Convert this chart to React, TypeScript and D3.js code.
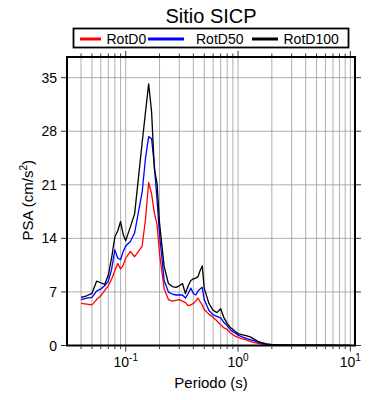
import React from "react";
import * as d3 from "d3";

const periods = [0.04, 0.045, 0.05, 0.055, 0.06, 0.065, 0.07, 0.075, 0.08, 0.085, 0.09, 0.095, 0.1, 0.11, 0.12, 0.13, 0.14, 0.15, 0.16, 0.17, 0.18, 0.19, 0.2, 0.22, 0.24, 0.26, 0.28, 0.3, 0.32, 0.34, 0.36, 0.38, 0.4, 0.42, 0.44, 0.46, 0.48, 0.5, 0.55, 0.6, 0.65, 0.7, 0.75, 0.8, 0.85, 0.9, 0.95, 1.0, 1.1, 1.2, 1.3, 1.4, 1.5, 1.6, 1.8, 2.0, 2.5, 3, 4, 5, 6, 7, 8, 9, 10];

const rotD0 = [5.5, 5.4, 5.3, 6.0, 6.5, 7.2, 7.8, 8.7, 9.8, 10.7, 10.0, 10.5, 11.4, 12.3, 11.6, 12.3, 13.0, 16.5, 21.3, 19.8, 17.3, 15.8, 12.0, 7.4, 6.0, 5.8, 5.9, 6.0, 5.8, 5.6, 5.2, 5.3, 5.5, 5.8, 6.2, 5.7, 5.3, 4.7, 4.1, 3.7, 3.2, 2.7, 2.3, 2.1, 1.7, 1.4, 1.2, 1.05, 0.85, 0.7, 0.5, 0.38, 0.28, 0.2, 0.1, 0.06, 0.04, 0.03, 0.03, 0.02, 0.02, 0.02, 0.02, 0.02, 0.02];

const rotD50 = [6.0, 6.2, 6.3, 7.1, 7.4, 7.8, 8.4, 10.0, 12.5, 11.4, 11.2, 12.3, 13.0, 13.6, 14.7, 17.5, 20.0, 24.5, 27.3, 27.0, 23.5, 19.0, 14.5, 8.5, 7.0, 6.7, 6.6, 6.6, 6.6, 6.2, 6.8, 7.5, 6.8, 6.6, 7.1, 7.4, 7.6, 6.0, 4.6, 4.0, 3.8, 3.6, 3.0, 2.6, 2.1, 1.8, 1.6, 1.35, 1.1, 0.9, 0.75, 0.6, 0.45, 0.32, 0.18, 0.1, 0.07, 0.05, 0.04, 0.03, 0.03, 0.02, 0.02, 0.02, 0.02];

const rotD100 = [6.3, 6.5, 6.8, 8.4, 8.2, 8.0, 9.2, 11.5, 14.2, 15.0, 16.2, 14.5, 13.7, 15.5, 17.2, 22.0, 26.5, 30.5, 34.2, 30.5, 23.0, 21.2, 16.0, 10.3, 8.1, 7.7, 7.6, 7.8, 8.1, 6.8, 7.8, 8.5, 8.7, 8.8, 9.0, 9.8, 10.4, 7.5, 5.5, 4.6, 4.3, 4.8, 3.6, 2.9, 2.4, 2.1, 1.8, 1.55, 1.4, 1.25, 1.1, 0.8, 0.55, 0.4, 0.22, 0.12, 0.08, 0.06, 0.05, 0.04, 0.03, 0.03, 0.02, 0.02, 0.02];

const seriesNames = ["RotD0", "RotD50", "RotD100"];
const seriesColors = ["#ff0000", "#0000ff", "#000000"];
const seriesValues = [rotD0, rotD50, rotD100];

const yTicks = [0, 7, 14, 21, 28, 35];
const xDecades = [0.1, 1, 10];
const decadeExponents = ["-1", "0", "1"];

const FONT = "'Liberation Sans', Arial, Helvetica, sans-serif";

export default function App() {
  const left = 67, right = 355, top = 57, bottom = 345.5;
  const x = d3.scaleLog().domain([0.03, 11]).range([left, right]);
  const y = d3.scaleLinear().domain([0, 37.7]).range([bottom, top]);

  const gridX: number[] = [];
  [0.01, 0.1, 1, 10].forEach((dec) => {
    for (let k = 1; k <= 9; k++) {
      const v = dec * k;
      if (v >= 0.031 && v <= 10.5) gridX.push(v);
    }
  });

  const line = d3
    .line<number>()
    .x((_, i) => x(periods[i]))
    .y((d) => y(d));

  const legendItems = [
    { x1: 80, x2: 101, tx: 106.5 },
    { x1: 148, x2: 184, tx: 196 },
    { x1: 252, x2: 278, tx: 283.5 },
  ];

  const isMajor = (v: number) => xDecades.some((d) => Math.abs(d - v) / d < 1e-6);

  return (
    <svg
      width={390}
      height={400}
      style={{ position: "absolute", left: 0, top: 0, background: "#fff" }}
      fontFamily={FONT}
    >
      <rect x={0} y={0} width={390} height={400} fill="#fff" />
      {gridX.map((v, i) => (
        <line key={"gx" + i} x1={x(v)} x2={x(v)} y1={top} y2={bottom} stroke="#9a9a9a" strokeWidth={0.8} />
      ))}
      {yTicks.slice(1).map((t) => (
        <line key={"gy" + t} x1={left} x2={right} y1={y(t)} y2={y(t)} stroke="#9a9a9a" strokeWidth={0.8} />
      ))}

      {seriesValues.map((vals, i) => (
        <path key={seriesNames[i]} d={line(vals) || ""} fill="none" stroke={seriesColors[i]} strokeWidth={1.3} strokeLinejoin="round" />
      ))}

      <rect x={left} y={top} width={right - left} height={bottom - top} fill="none" stroke="#000" strokeWidth={2} />

      {gridX.map((v, i) => {
        const len = isMajor(v) ? 5 : 2.5;
        return (
          <g key={"xt" + i}>
            <line x1={x(v)} x2={x(v)} y1={top - 1} y2={top - 1 - len} stroke="#000" strokeWidth={0.8} />
            <line x1={x(v)} x2={x(v)} y1={bottom + 1} y2={bottom + 1 + len} stroke="#000" strokeWidth={0.8} />
          </g>
        );
      })}
      {yTicks.map((t) => (
        <g key={"yt" + t}>
          <line x1={left - 1} x2={left - 6} y1={y(t)} y2={y(t)} stroke="#000" strokeWidth={0.8} />
          <line x1={right + 1} x2={right + 6} y1={y(t)} y2={y(t)} stroke="#000" strokeWidth={0.8} />
          <text x={57} y={y(t)} dy="0.36em" textAnchor="end" fontSize={14} fill="#000">
            {t}
          </text>
        </g>
      ))}
      {xDecades.map((d, i) => (
        <text key={"xl" + d} x={x(d)} y={366.5} textAnchor="middle" fontSize={14} fill="#000">
          10
          <tspan dy={-6} fontSize={10}>
            {decadeExponents[i]}
          </tspan>
        </text>
      ))}

      <text x={(left + right) / 2} y={388} textAnchor="middle" fontSize={15} fill="#000">
        Periodo (s)
      </text>
      <text transform={`translate(33,${(top + bottom) / 2 - 1}) rotate(-90)`} textAnchor="middle" fontSize={15} fill="#000">
        PSA (cm/s
        <tspan dy={-6} fontSize={10}>2</tspan>
        <tspan dy={6}>)</tspan>
      </text>

      <text x={(left + right) / 2} y={23} textAnchor="middle" fontSize={20} fill="#000">
        Sitio SICP
      </text>

      <rect x={73.5} y={28.5} width={275} height={19} fill="#fff" stroke="#000" strokeWidth={1.8} />
      {legendItems.map((it, i) => (
        <g key={"lg" + i}>
          <line x1={it.x1} x2={it.x2} y1={39} y2={39} stroke={seriesColors[i]} strokeWidth={3} />
          <text x={it.tx} y={43.5} fontSize={14} fill="#000">
            {seriesNames[i]}
          </text>
        </g>
      ))}
    </svg>
  );
}
